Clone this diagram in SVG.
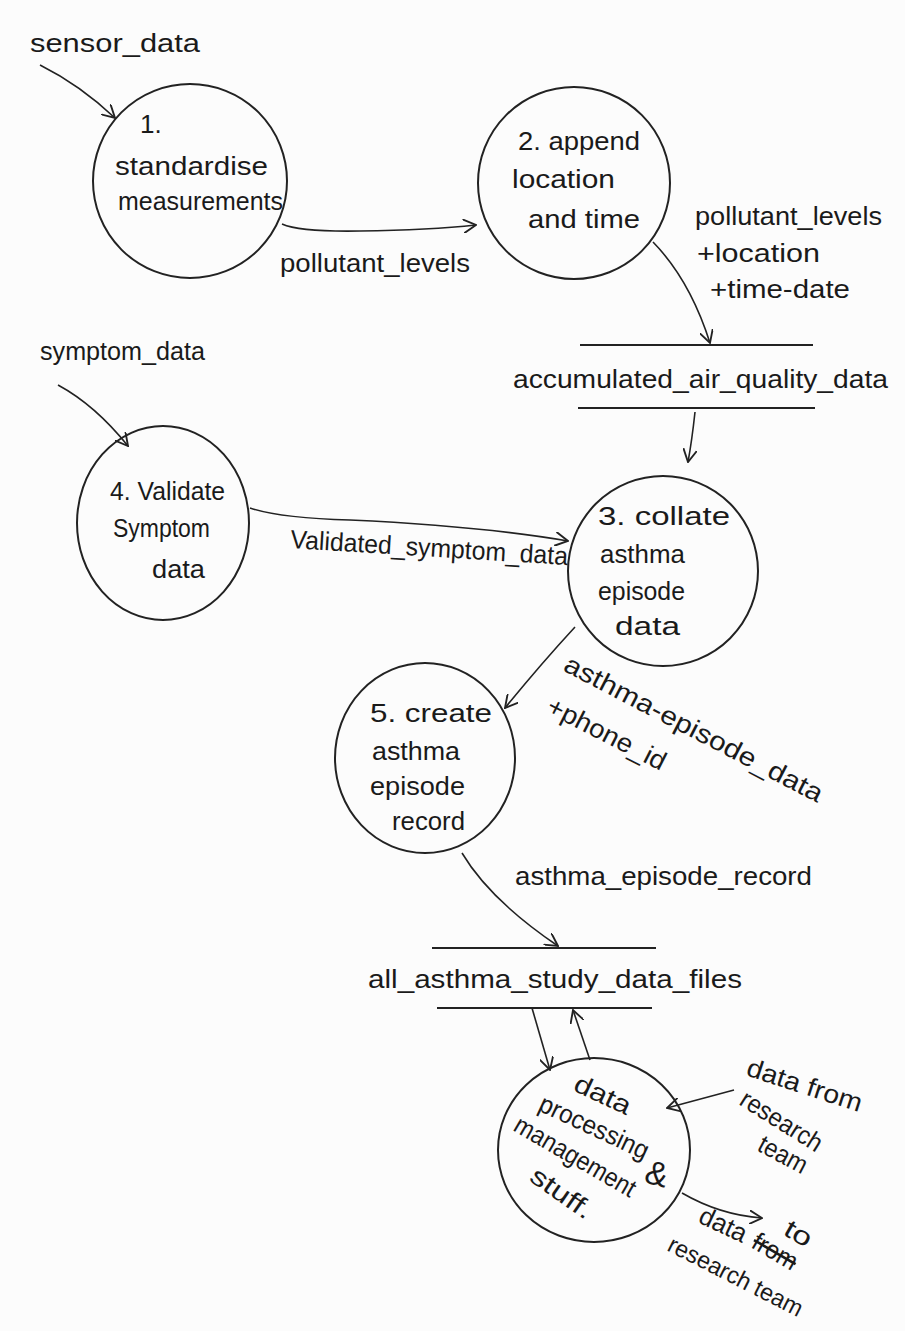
<svg xmlns="http://www.w3.org/2000/svg" width="905" height="1331" viewBox="0 0 905 1331">
<defs>
<style>
.bg{fill:#fcfcfc}
.proc{fill:none;stroke:#222;stroke-width:2}
.store{stroke:#222;stroke-width:2}
.flow{fill:none;stroke:#222;stroke-width:1.6;marker-end:url(#arr)}
text{font-family:"Liberation Sans","DejaVu Sans",sans-serif;font-size:26px;fill:#1a1a1a}
</style>
<marker id="arr" viewBox="0 0 12 12" refX="11" refY="6" markerWidth="14" markerHeight="14" markerUnits="userSpaceOnUse" orient="auto">
<path d="M0,0 L11,6 L0,12" fill="none" stroke="#222" stroke-width="1.6"/>
</marker>
</defs>
<rect class="bg" x="0" y="0" width="905" height="1331"/>

<g id="connectors">
<path class="flow" d="M40,65 Q80,85 115,118"/>
<path class="flow" d="M282,224 Q300,232 360,231 Q430,230 476,225"/>
<path class="flow" d="M653,242 Q690,280 710,343"/>
<path class="flow" d="M695,412 Q692,440 688,462"/>
<path class="flow" d="M58,385 Q95,405 128,446"/>
<path class="flow" d="M250,508 Q280,518 350,520 Q480,526 568,541"/>
<path class="flow" d="M575,627 Q540,665 505,708"/>
<path class="flow" d="M462,853 Q490,900 558,946"/>
<path class="flow" d="M532,1008 L550,1070"/>
<path class="flow" d="M590,1060 L573,1010"/>
<path class="flow" d="M734,1090 L667,1108"/>
<path class="flow" d="M682,1193 Q720,1215 762,1218"/>
</g>

<g id="ext-sensor"><text x="30" y="52" textLength="170" lengthAdjust="spacingAndGlyphs">sensor_data</text></g>
<g id="ext-symptom"><text x="40" y="360" textLength="165" lengthAdjust="spacingAndGlyphs">symptom_data</text></g>

<g id="p1">
<circle class="proc" cx="190" cy="181" r="97"/>
<text x="140" y="133">1.</text>
<text x="115" y="175" textLength="153" lengthAdjust="spacingAndGlyphs">standardise</text>
<text x="118" y="210" textLength="165" lengthAdjust="spacingAndGlyphs">measurements</text>
</g>

<g id="p2">
<circle class="proc" cx="574" cy="183" r="96"/>
<text x="518" y="150" textLength="122" lengthAdjust="spacingAndGlyphs">2. append</text>
<text x="512" y="188" textLength="103" lengthAdjust="spacingAndGlyphs">location</text>
<text x="528" y="228" textLength="112" lengthAdjust="spacingAndGlyphs">and time</text>
</g>

<g id="lbl-flow12"><text x="280" y="272" textLength="190" lengthAdjust="spacingAndGlyphs">pollutant_levels</text></g>
<g id="lbl-flow2s">
<text x="695" y="225" textLength="187" lengthAdjust="spacingAndGlyphs">pollutant_levels</text>
<text x="697" y="262" textLength="123" lengthAdjust="spacingAndGlyphs">+location</text>
<text x="710" y="298" textLength="140" lengthAdjust="spacingAndGlyphs">+time-date</text>
</g>

<g id="s1">
<line class="store" x1="580" y1="345" x2="813" y2="345"/>
<line class="store" x1="578" y1="408" x2="815" y2="408"/>
<text x="513" y="388" textLength="375" lengthAdjust="spacingAndGlyphs">accumulated_air_quality_data</text>
</g>

<g id="p4">
<ellipse class="proc" cx="163" cy="523" rx="86" ry="97"/>
<text x="110" y="500" textLength="115" lengthAdjust="spacingAndGlyphs">4. Validate</text>
<text x="113" y="537" textLength="97" lengthAdjust="spacingAndGlyphs">Symptom</text>
<text x="152" y="578" textLength="53" lengthAdjust="spacingAndGlyphs">data</text>
</g>

<g id="lbl-flow43"><text transform="translate(290,548) rotate(3.5)" textLength="278" lengthAdjust="spacingAndGlyphs">Validated_symptom_data</text></g>

<g id="p3">
<circle class="proc" cx="663" cy="571" r="95"/>
<text x="598" y="525" textLength="132" lengthAdjust="spacingAndGlyphs">3. collate</text>
<text x="600" y="563" textLength="85" lengthAdjust="spacingAndGlyphs">asthma</text>
<text x="598" y="600" textLength="87" lengthAdjust="spacingAndGlyphs">episode</text>
<text x="615" y="635" textLength="65" lengthAdjust="spacingAndGlyphs">data</text>
</g>

<g id="lbl-flow35">
<text transform="translate(562,670) rotate(27.5)" textLength="288" lengthAdjust="spacingAndGlyphs">asthma-episode_data</text>
<text transform="translate(545,712) rotate(27)" textLength="130" lengthAdjust="spacingAndGlyphs">+phone_id</text>
</g>

<g id="p5">
<ellipse class="proc" cx="425" cy="758" rx="90" ry="95"/>
<text x="370" y="722" textLength="122" lengthAdjust="spacingAndGlyphs">5. create</text>
<text x="372" y="760" textLength="88" lengthAdjust="spacingAndGlyphs">asthma</text>
<text x="370" y="795" textLength="95" lengthAdjust="spacingAndGlyphs">episode</text>
<text x="392" y="830" textLength="73" lengthAdjust="spacingAndGlyphs">record</text>
</g>

<g id="lbl-flow5s"><text x="515" y="885" textLength="297" lengthAdjust="spacingAndGlyphs">asthma_episode_record</text></g>

<g id="s2">
<line class="store" x1="432" y1="948" x2="656" y2="948"/>
<line class="store" x1="437" y1="1008" x2="652" y2="1008"/>
<text x="368" y="988" textLength="374" lengthAdjust="spacingAndGlyphs">all_asthma_study_data_files</text>
</g>

<g id="p6">
<ellipse class="proc" cx="594" cy="1150" rx="96" ry="92"/>
<text transform="translate(572,1090) rotate(25)" textLength="60" lengthAdjust="spacingAndGlyphs">data</text>
<text transform="translate(537,1110) rotate(25)" textLength="118" lengthAdjust="spacingAndGlyphs">processing</text>
<text transform="translate(643,1182) rotate(15)" style="font-size:34px">&amp;</text>
<text transform="translate(512,1130) rotate(30)" textLength="136" lengthAdjust="spacingAndGlyphs">management</text>
<text transform="translate(528,1180) rotate(35)" textLength="70" lengthAdjust="spacingAndGlyphs">stuff.</text>
</g>

<g id="lbl-in6">
<text transform="translate(745,1075) rotate(18)" textLength="120" lengthAdjust="spacingAndGlyphs">data from</text>
<text transform="translate(738,1104) rotate(32)" textLength="92" lengthAdjust="spacingAndGlyphs">research</text>
<text transform="translate(756,1150) rotate(28)" textLength="52" lengthAdjust="spacingAndGlyphs">team</text>
</g>

<g id="lbl-out6">
<text transform="translate(697,1222) rotate(25)" textLength="50" lengthAdjust="spacingAndGlyphs">data</text>
<text transform="translate(750,1247) rotate(30)" text-decoration="line-through" textLength="48" lengthAdjust="spacingAndGlyphs">from</text>
<text transform="translate(782,1234) rotate(30)" textLength="28" lengthAdjust="spacingAndGlyphs">to</text>
<text transform="translate(666,1250) rotate(27)" style="font-size:24px" textLength="148" lengthAdjust="spacingAndGlyphs">research team</text>
</g>
</svg>
